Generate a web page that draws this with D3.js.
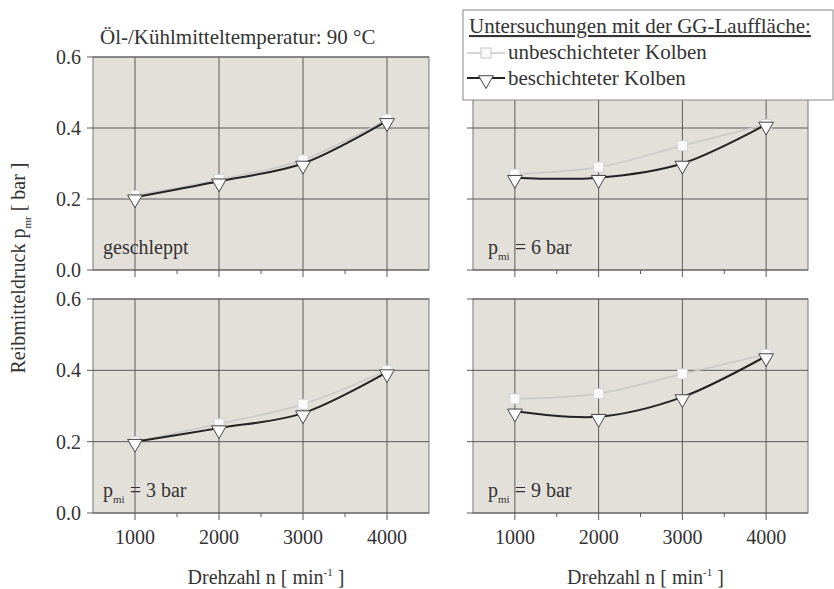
<html>
<script src="https://cdn.jsdelivr.net/npm/d3@7/dist/d3.min.js"></script>
<body style="margin:0;background:#fff">
<svg width="834" height="589"></svg>
<script>
// data
var speeds = [1000, 2000, 3000, 4000];
var xTicks = [1000, 2000, 3000, 4000];
var xMinor = [1500, 2500, 3500];
var yTicks = [0.0, 0.2, 0.4, 0.6];
var panelNames = ["geschleppt", "6 bar", "3 bar", "9 bar"];
var uncoated = [
    [0.21, 0.255, 0.31, 0.425],
    [0.27, 0.29, 0.35, 0.41],
    [0.20, 0.25, 0.305, 0.40],
    [0.32, 0.335, 0.39, 0.445]
];
var coated = [
    [0.205, 0.25, 0.30, 0.42],
    [0.26, 0.26, 0.30, 0.41],
    [0.20, 0.238, 0.28, 0.395],
    [0.285, 0.27, 0.325, 0.44]
];

var svg = d3.select("svg");
var font = "'Liberation Serif', 'DejaVu Serif', serif";
svg.style("font-family", font).style("fill", "#333");
var fs = 20;

var cols = [[93, 429], [473, 808]];
var rows = [[57, 270], [299, 513]];

var triangle = d3.symbol().type(d3.symbolTriangle).size(95);

for (var p = 0; p < 4; p++) {
    var c = p % 2, r = Math.floor(p / 2);
    var x = d3.scaleLinear().domain([500, 4500]).range(cols[c]);
    var y = d3.scaleLinear().domain([0, 0.6]).range([rows[r][1], rows[r][0]]);
    var g = svg.append("g");

    g.append("rect")
        .attr("x", cols[c][0]).attr("y", rows[r][0])
        .attr("width", cols[c][1] - cols[c][0]).attr("height", rows[r][1] - rows[r][0])
        .attr("fill", "#e3e0d9").attr("stroke", "#777").attr("stroke-width", 1);

    // grid
    g.selectAll(".vg").data(xTicks).enter().append("line")
        .attr("x1", d => x(d)).attr("x2", d => x(d))
        .attr("y1", rows[r][0]).attr("y2", rows[r][1] + 7)
        .attr("stroke", "#5a5a5a").attr("stroke-width", 1);
    g.selectAll(".mg").data(xMinor).enter().append("line")
        .attr("x1", d => x(d)).attr("x2", d => x(d))
        .attr("y1", rows[r][1]).attr("y2", rows[r][1] + 4)
        .attr("stroke", "#5a5a5a");
    g.selectAll(".hg").data(yTicks).enter().append("line")
        .attr("x1", cols[c][0] - 6).attr("x2", cols[c][1])
        .attr("y1", d => y(d)).attr("y2", d => y(d))
        .attr("stroke", "#5a5a5a").attr("stroke-width", 1);

    if (c == 0) {
        g.selectAll(".yl").data(yTicks).enter().append("text")
            .attr("x", cols[c][0] - 12).attr("y", d => y(d)).attr("dy", "0.35em")
            .attr("text-anchor", "end").attr("font-size", fs)
            .text(d => d3.format(".1f")(d));
    }
    if (r == 1) {
        g.selectAll(".xl").data(xTicks).enter().append("text")
            .attr("x", d => x(d)).attr("y", 544)
            .attr("text-anchor", "middle").attr("font-size", fs)
            .text(d => d);
        var t = g.append("text").attr("x", (cols[c][0] + cols[c][1]) / 2 + 5).attr("y", 584)
            .attr("text-anchor", "middle").attr("font-size", fs);
        t.append("tspan").text("Drehzahl n  [ min");
        t.append("tspan").attr("dy", -8).attr("font-size", 11).text("-1");
        t.append("tspan").attr("dy", 8).text(" ]");
    }

    var line = d3.line().x((d, i) => x(speeds[i])).y(d => y(d)).curve(d3.curveCatmullRom.alpha(0.5));

    g.append("path").datum(uncoated[p]).attr("d", line)
        .attr("fill", "none").attr("stroke", "#c8c8c8").attr("stroke-width", 1.5);
    g.selectAll(".sq").data(uncoated[p]).enter().append("rect")
        .attr("x", (d, i) => x(speeds[i]) - 5).attr("y", d => y(d) - 5)
        .attr("width", 10).attr("height", 10)
        .attr("fill", "#fafafa").attr("stroke", "#d4d4d4");

    g.append("path").datum(coated[p]).attr("d", line)
        .attr("fill", "none").attr("stroke", "#222").attr("stroke-width", 2);
    g.selectAll(".tr").data(coated[p]).enter().append("path")
        .attr("d", triangle)
        .attr("transform", (d, i) => "translate(" + x(speeds[i]) + "," + (y(d) + 2) + ") rotate(180)")
        .attr("fill", "#fff").attr("stroke", "#444").attr("stroke-width", 1);

    var lab = g.append("text").attr("x", cols[c][0] + (c == 0 ? 10 : 15))
        .attr("y", rows[r][1] - 16).attr("font-size", fs);
    if (p == 0) {
        lab.text(panelNames[p]);
    } else {
        lab.append("tspan").text("p");
        lab.append("tspan").attr("dy", 6).attr("font-size", 11).text("mi");
        lab.append("tspan").attr("dy", -6).text(" = " + panelNames[p]);
    }
}

// title
svg.append("text").attr("x", 100).attr("y", 44).attr("font-size", fs + 1)
    .text("Öl-/Kühlmitteltemperatur: 90 °C");

// y axis title
var yt = svg.append("text").attr("transform", "translate(25,268) rotate(-90)")
    .attr("text-anchor", "middle").attr("font-size", fs);
yt.append("tspan").text("Reibmitteldruck p");
yt.append("tspan").attr("dy", 6).attr("font-size", 11).text("mr");
yt.append("tspan").attr("dy", -6).text("  [ bar ]");

// legend
var lg = svg.append("g");
lg.append("rect").attr("x", 463).attr("y", 10).attr("width", 370).attr("height", 90)
    .attr("fill", "#fff").attr("stroke", "#888");
lg.append("text").attr("x", 469).attr("y", 33).attr("font-size", fs + 1)
    .attr("text-decoration", "underline")
    .text("Untersuchungen mit der GG-Lauffläche:");
lg.append("line").attr("x1", 467).attr("x2", 505).attr("y1", 53).attr("y2", 53)
    .attr("stroke", "#c8c8c8").attr("stroke-width", 1.5);
lg.append("rect").attr("x", 481).attr("y", 48).attr("width", 10).attr("height", 10)
    .attr("fill", "#fafafa").attr("stroke", "#c8c8c8");
lg.append("text").attr("x", 508).attr("y", 59).attr("font-size", fs + 1).text("unbeschichteter Kolben");
lg.append("line").attr("x1", 467).attr("x2", 505).attr("y1", 78).attr("y2", 78)
    .attr("stroke", "#222").attr("stroke-width", 2);
lg.append("path").attr("d", triangle)
    .attr("transform", "translate(486,80) rotate(180)")
    .attr("fill", "#fff").attr("stroke", "#444");
lg.append("text").attr("x", 508).attr("y", 85).attr("font-size", fs + 1).text("beschichteter Kolben");
</script>
</body>
</html>
